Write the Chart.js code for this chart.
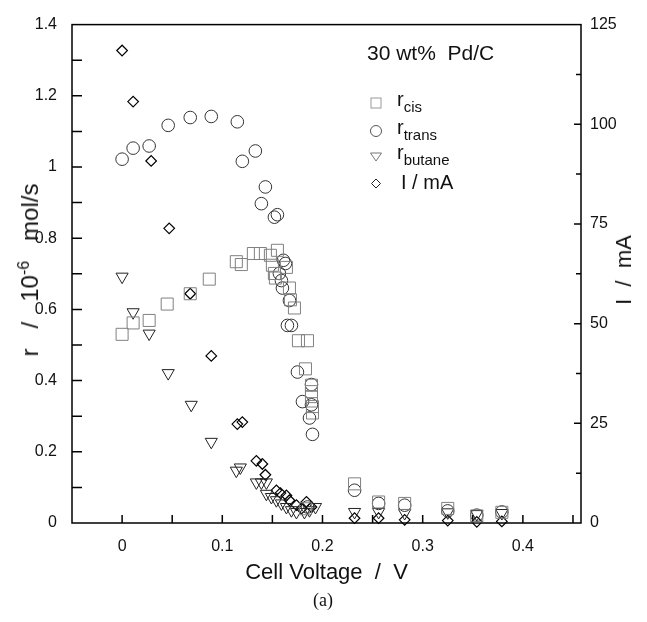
<!DOCTYPE html>
<html>
<head>
<meta charset="utf-8">
<script src="https://cdn.jsdelivr.net/npm/chart.js@4.4.1/dist/chart.umd.min.js"></script>
<style>
  body { margin: 0; background: #fff; }
  #wrap { position: relative; width: 647px; height: 622px; }
  .t { position: absolute; font-family: "Liberation Sans", Arial, sans-serif; color: #111; white-space: pre; line-height: 1; }
  .t sub { font-size: 15px; vertical-align: -6px; }
  .t sup { font-size: 16px; vertical-align: 9px; }
  .rot { transform: translate(-50%, -50%) rotate(-90deg); }
</style>
</head>
<body>
<div id="wrap">
  <canvas id="c" width="647" height="622"></canvas>
  <div class="t" style="left:367px;top:42px;font-size:21px;">30 wt%  Pd/C</div>
  <div class="t" style="left:397px;top:89px;font-size:20px;">r<sub>cis</sub></div>
  <div class="t" style="left:397px;top:117px;font-size:20px;">r<sub>trans</sub></div>
  <div class="t" style="left:397px;top:142px;font-size:20px;">r<sub>butane</sub></div>
  <div class="t" style="left:401px;top:172px;font-size:20px;">I / mA</div>
  <div class="t rot" style="left:29px;top:270px;font-size:24px;">r   /   10<sup>-6</sup>   mol/s</div>
  <div class="t rot" style="left:624px;top:270px;font-size:22px;">I  /  mA</div>
  <div class="t" style="left:323px;top:600px;font-size:18px;font-family:'Liberation Serif',serif;transform:translate(-50%,-50%);">(a)</div>
</div>
<script>
// cis-2-butene rate (10^-6 mol/s)
const CIS_V = [0.0, 0.011, 0.027, 0.045, 0.068, 0.087, 0.114, 0.119, 0.131, 0.138, 0.148, 0.150, 0.155, 0.152, 0.153,
  0.164, 0.167, 0.168, 0.172, 0.176, 0.185, 0.183, 0.189, 0.189, 0.189, 0.190, 0.190, 0.183, 0.232, 0.256, 0.282, 0.325, 0.354, 0.379];
const CIS_R = [0.530, 0.562, 0.569, 0.615, 0.644, 0.685, 0.734, 0.726, 0.757, 0.757, 0.752, 0.724, 0.766, 0.701, 0.688,
  0.718, 0.660, 0.627, 0.604, 0.512, 0.512, 0.433, 0.387, 0.369, 0.355, 0.327, 0.309, 0.040, 0.110, 0.059, 0.055, 0.041, 0.020, 0.030];

// trans-2-butene rate
const TRANS_V = [0.0, 0.011, 0.027, 0.046, 0.068, 0.089, 0.115, 0.120, 0.133, 0.139, 0.143, 0.152, 0.155, 0.161, 0.163,
  0.157, 0.159, 0.160, 0.167, 0.165, 0.169, 0.175, 0.189, 0.180, 0.189, 0.187, 0.190, 0.185, 0.232, 0.256, 0.282, 0.325, 0.354, 0.379];
const TRANS_R = [1.022, 1.053, 1.059, 1.117, 1.139, 1.142, 1.127, 1.016, 1.045, 0.897, 0.944, 0.859, 0.866, 0.738, 0.729,
  0.701, 0.681, 0.660, 0.625, 0.555, 0.555, 0.424, 0.389, 0.341, 0.332, 0.295, 0.249, 0.045, 0.092, 0.055, 0.050, 0.034, 0.022, 0.031];

// butane rate
const BUT_V = [0.0, 0.011, 0.027, 0.046, 0.069, 0.089, 0.114, 0.118, 0.134, 0.139, 0.144, 0.144, 0.149, 0.154, 0.159,
  0.164, 0.169, 0.174, 0.182, 0.187, 0.193, 0.232, 0.256, 0.282, 0.325, 0.354, 0.379];
const BUT_R = [0.692, 0.592, 0.532, 0.421, 0.332, 0.228, 0.147, 0.156, 0.114, 0.114, 0.114, 0.082, 0.073, 0.064, 0.055,
  0.045, 0.036, 0.031, 0.031, 0.036, 0.045, 0.031, 0.031, 0.028, 0.030, 0.025, 0.028];

// cell current (mA), right axis
const CUR_V = [0.0, 0.011, 0.029, 0.047, 0.068, 0.089, 0.115, 0.120, 0.134, 0.140, 0.143, 0.154, 0.158, 0.164, 0.167,
  0.174, 0.179, 0.184, 0.189, 0.232, 0.256, 0.282, 0.325, 0.354, 0.379];
const CUR_I = [118.5, 105.7, 90.8, 73.9, 57.5, 41.9, 24.8, 25.3, 15.6, 14.8, 12.1, 8.2, 7.5, 6.9, 5.7,
  4.5, 3.6, 5.3, 4.0, 1.2, 1.2, 0.8, 0.6, 0.3, 0.4];

const X_TICKS = [0, 0.1, 0.2, 0.3, 0.4];
const R_TICKS = [0, 0.2, 0.4, 0.6, 0.8, 1, 1.2, 1.4];
const I_TICKS = [0, 25, 50, 75, 100, 125];
const X_MARKS = [0, 0.05, 0.1, 0.15, 0.2, 0.25, 0.3, 0.35, 0.4, 0.45];
const R_MARKS = [0.1, 0.2, 0.3, 0.4, 0.5, 0.6, 0.7, 0.8, 0.9, 1.0, 1.1, 1.2, 1.3];
const I_MARKS = [12.5, 25, 37.5, 50, 62.5, 75, 87.5, 100, 112.5];

const FONT = '"Liberation Sans", Arial, sans-serif';
const pts = (xs, ys) => xs.map((x, i) => ({ x: x, y: ys[i] }));

// frame, inward ticks and legend symbols
const frameTicks = {
  id: 'frameTicks',
  beforeDatasetsDraw(chart) {
    const ctx = chart.ctx, a = chart.chartArea;
    const sx = chart.scales.x, sy = chart.scales.y, sy2 = chart.scales.y2;
    ctx.save();
    ctx.strokeStyle = '#000';
    ctx.lineWidth = 1.5;
    ctx.strokeRect(a.left, a.top, a.right - a.left, a.bottom - a.top);
    ctx.beginPath();
    X_MARKS.forEach(v => { const p = sx.getPixelForValue(v); ctx.moveTo(p, a.bottom); ctx.lineTo(p, a.bottom - 8); });
    R_MARKS.forEach(v => { const p = sy.getPixelForValue(v); ctx.moveTo(a.left, p); ctx.lineTo(a.left + 10, p); });
    I_MARKS.forEach(v => { const p = sy2.getPixelForValue(v); const l = v % 25 === 0 ? 7 : 5; ctx.moveTo(a.right, p); ctx.lineTo(a.right - l, p); });
    ctx.stroke();

    ctx.lineWidth = 1;
    const lx = 376;
    ctx.strokeStyle = '#999';
    ctx.strokeRect(lx - 5, 98, 10, 10);
    ctx.strokeStyle = '#555';
    ctx.beginPath(); ctx.arc(lx, 131, 5.5, 0, Math.PI * 2); ctx.stroke();
    ctx.strokeStyle = '#777';
    ctx.beginPath(); ctx.moveTo(lx - 5.5, 153); ctx.lineTo(lx + 5.5, 153); ctx.lineTo(lx, 161); ctx.closePath(); ctx.stroke();
    ctx.strokeStyle = '#222';
    ctx.beginPath(); ctx.moveTo(lx, 179); ctx.lineTo(lx + 4.5, 183.5); ctx.lineTo(lx, 188); ctx.lineTo(lx - 4.5, 183.5); ctx.closePath(); ctx.stroke();
    ctx.restore();
  }
};

const tickFont = { family: FONT, size: 16 };

new Chart(document.getElementById('c'), {
  type: 'scatter',
  data: {
    datasets: [
      { label: 'r cis', data: pts(CIS_V, CIS_R), yAxisID: 'y', pointStyle: 'rect', pointRadius: 8.5,
        borderColor: '#808080', backgroundColor: 'rgba(0,0,0,0)', borderWidth: 1, clip: false },
      { label: 'r trans', data: pts(TRANS_V, TRANS_R), yAxisID: 'y', pointStyle: 'circle', pointRadius: 6.3,
        borderColor: '#333', backgroundColor: 'rgba(0,0,0,0)', borderWidth: 1, clip: false },
      { label: 'r butane', data: pts(BUT_V, BUT_R), yAxisID: 'y', pointStyle: 'triangle', pointRotation: 180, pointRadius: 7,
        borderColor: '#222', backgroundColor: 'rgba(0,0,0,0)', borderWidth: 1, clip: false },
      { label: 'I / mA', data: pts(CUR_V, CUR_I), yAxisID: 'y2', pointStyle: 'rectRot', pointRadius: 5.3,
        borderColor: '#000', backgroundColor: 'rgba(0,0,0,0)', borderWidth: 1.2, clip: false }
    ]
  },
  options: {
    responsive: false,
    animation: false,
    events: [],
    layout: { padding: { top: 18, left: 0, right: 0, bottom: 0 } },
    plugins: { legend: { display: false }, tooltip: { enabled: false } },
    scales: {
      x: {
        type: 'linear', position: 'bottom', min: -0.05, max: 0.458,
        afterBuildTicks: s => { s.ticks = X_TICKS.map(v => ({ value: v })); },
        afterFit: s => { s.height = 99; },
        ticks: { font: tickFont, color: '#111', padding: 14, maxRotation: 0, autoSkip: false, callback: v => String(v) },
        grid: { display: false, drawTicks: false },
        border: { display: false },
        title: { display: true, text: 'Cell Voltage  /  V', color: '#111', font: { family: FONT, size: 22 }, padding: { top: 0, bottom: 36 } }
      },
      y: {
        type: 'linear', position: 'left', min: 0, max: 1.4,
        afterBuildTicks: s => { s.ticks = R_TICKS.map(v => ({ value: v })); },
        afterFit: s => { s.width = 72; },
        ticks: { font: tickFont, color: '#111', padding: 15, autoSkip: false, callback: v => String(v) },
        grid: { display: false, drawTicks: false },
        border: { display: false }
      },
      y2: {
        type: 'linear', position: 'right', min: 0, max: 125,
        afterBuildTicks: s => { s.ticks = I_TICKS.map(v => ({ value: v })); },
        afterFit: s => { s.width = 66; },
        ticks: { font: tickFont, color: '#111', padding: 9, autoSkip: false, callback: v => String(v) },
        grid: { display: false, drawTicks: false },
        border: { display: false }
      }
    }
  },
  plugins: [frameTicks]
});
</script>
</body>
</html>
